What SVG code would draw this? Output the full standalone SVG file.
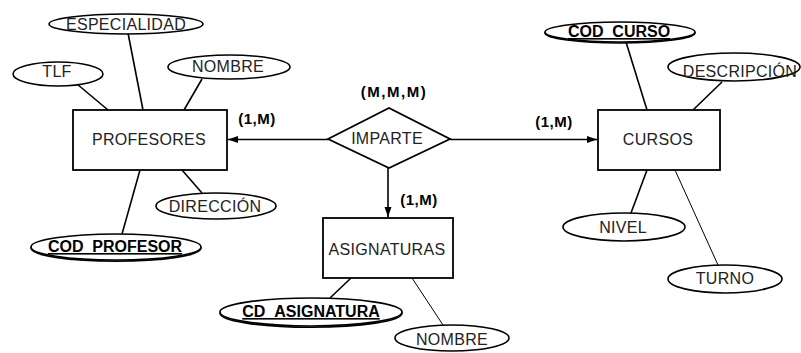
<svg xmlns="http://www.w3.org/2000/svg" width="801" height="353" viewBox="0 0 801 353">
<defs>
<style>
.ent{fill:#fff;stroke:#000;stroke-width:1.8}
.att{fill:#fff;stroke:#000;stroke-width:1.6}
.t{font-family:"Liberation Sans",Arial,sans-serif;font-size:16px;fill:#222;text-anchor:middle;letter-spacing:0.3px}
.k{font-family:"Liberation Sans",Arial,sans-serif;font-size:16px;font-weight:bold;fill:#000;text-anchor:middle;text-decoration:underline}
.c{font-family:"Liberation Sans",Arial,sans-serif;font-size:15px;font-weight:bold;fill:#000;text-anchor:middle;letter-spacing:0.5px}
.ln{stroke:#000;stroke-width:1.6;fill:none}
.thin{stroke:#000;stroke-width:1;fill:none}
</style>
<marker id="ah" viewBox="0 0 10 10" refX="10" refY="5" markerWidth="10" markerHeight="10" markerUnits="userSpaceOnUse" orient="auto">
<path d="M0,1.5 L10,5 L0,8.5 Z" fill="#000"/>
</marker>
</defs>
<rect width="801" height="353" fill="#fff"/>
<g id="connectors">
<line class="ln" x1="77" y1="84" x2="108" y2="110"/>
<line class="ln" x1="128" y1="33" x2="143" y2="110"/>
<line class="ln" x1="202" y1="79" x2="184" y2="110"/>
<line class="ln" x1="182" y1="170" x2="202" y2="193"/>
<line class="ln" x1="140" y1="170" x2="122" y2="234"/>
<line class="ln" x1="351" y1="278" x2="330" y2="298"/>
<line class="thin" x1="412" y1="278" x2="443" y2="325"/>
<line class="ln" x1="626" y1="42" x2="647" y2="110"/>
<line class="ln" x1="722" y1="82" x2="693" y2="110"/>
<line class="ln" x1="647" y1="170" x2="631" y2="213"/>
<line class="thin" x1="675" y1="170" x2="718" y2="265"/>
<line class="ln" x1="328" y1="139.5" x2="228" y2="139.5" marker-end="url(#ah)"/>
<line class="ln" x1="450" y1="139.5" x2="597" y2="139.5" marker-end="url(#ah)"/>
<line class="ln" x1="388" y1="168" x2="388" y2="217" marker-end="url(#ah)"/>
<text class="c" x="257" y="124">(1,M)</text>
<text class="c" x="554" y="127">(1,M)</text>
<text class="c" x="419" y="205">(1,M)</text>
</g>
<g id="profesores">
<rect class="ent" x="73" y="110" width="154" height="60"/>
<text class="t" x="149" y="145">PROFESORES</text>
</g>
<g id="especialidad">
<ellipse class="att" cx="126" cy="24" rx="77" ry="10"/>
<text class="t" x="126" y="30">ESPECIALIDAD</text>
</g>
<g id="tlf">
<ellipse class="att" cx="58" cy="74" rx="45" ry="12"/>
<text class="t" x="57" y="77">TLF</text>
</g>
<g id="nombre-prof">
<ellipse class="att" cx="229" cy="67" rx="61" ry="12"/>
<text class="t" x="228" y="72">NOMBRE</text>
</g>
<g id="direccion">
<ellipse class="att" cx="216" cy="206" rx="60" ry="13"/>
<text class="t" x="215" y="212">DIRECCIÓN</text>
</g>
<g id="cod-profesor">
<ellipse class="att" cx="116" cy="248.2" rx="85" ry="13"/>
<ellipse class="att" cx="116" cy="247" rx="85" ry="13"/>
<text class="k" x="115" y="252">COD_PROFESOR</text>
</g>
<g id="imparte">
<polygon class="ent" points="328,139 389,108 450,139 389,168"/>
<text class="t" x="387" y="144">IMPARTE</text>
<text class="c" x="394" y="97" style="letter-spacing:1.5px">(M,M,M)</text>
</g>
<g id="asignaturas">
<rect class="ent" x="323" y="218" width="130" height="60"/>
<text class="t" x="387" y="255">ASIGNATURAS</text>
</g>
<g id="cd-asignatura">
<ellipse class="att" cx="311" cy="313.2" rx="91" ry="14"/>
<ellipse class="att" cx="311" cy="312" rx="91" ry="14"/>
<text class="k" x="311" y="317">CD_ASIGNATURA</text>
</g>
<g id="nombre-asig">
<ellipse class="att" cx="452" cy="338" rx="57" ry="13"/>
<text class="t" x="452" y="345">NOMBRE</text>
</g>
<g id="cursos">
<rect class="ent" x="598" y="110" width="122" height="60"/>
<text class="t" x="658" y="145">CURSOS</text>
</g>
<g id="cod-curso">
<ellipse class="att" cx="620" cy="33" rx="75" ry="10"/>
<ellipse class="att" cx="620" cy="32" rx="75" ry="10"/>
<text class="k" x="619" y="37">COD_CURSO</text>
</g>
<g id="descripcion">
<ellipse class="att" cx="734" cy="67" rx="66" ry="14"/>
<text class="t" x="740" y="77">DESCRIPCIÓN</text>
</g>
<g id="nivel">
<ellipse class="att" cx="624" cy="227" rx="61" ry="14"/>
<text class="t" x="623" y="233">NIVEL</text>
</g>
<g id="turno">
<ellipse class="att" cx="725" cy="279" rx="57" ry="14"/>
<text class="t" x="725" y="284">TURNO</text>
</g>
</svg>
